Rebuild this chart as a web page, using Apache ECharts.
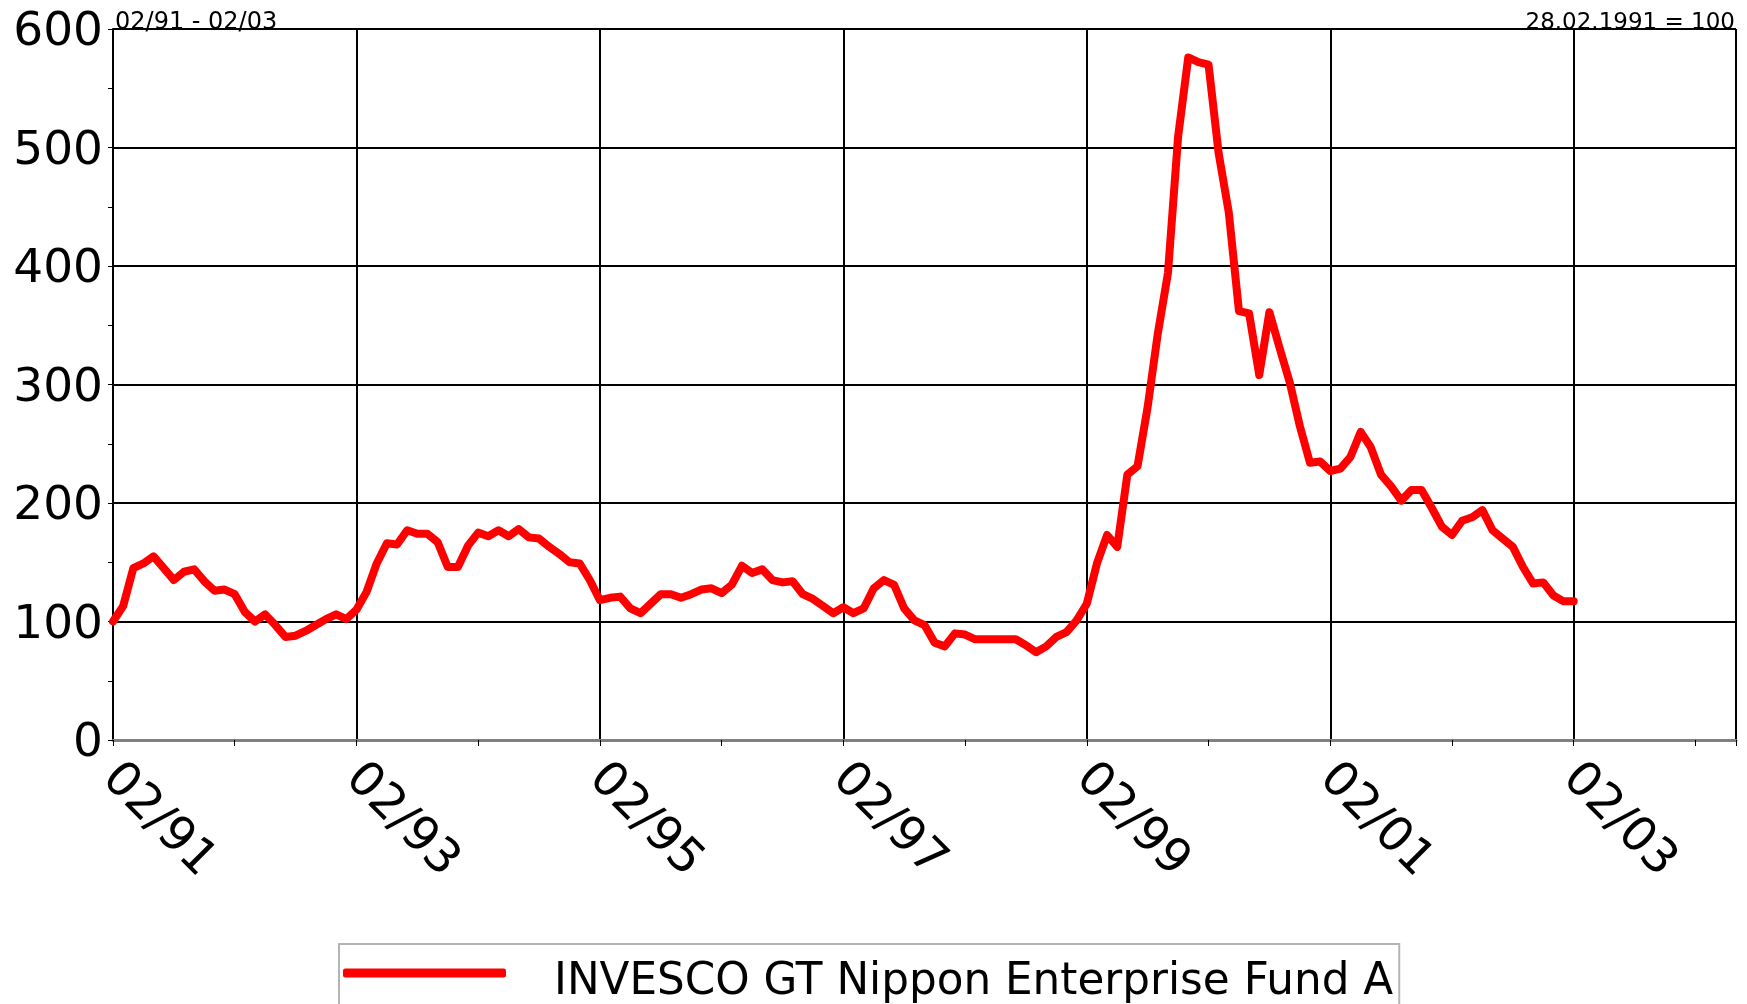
<!DOCTYPE html>
<html>
<head>
<meta charset="utf-8">
<script src="https://cdn.jsdelivr.net/npm/echarts@6/dist/echarts.min.js"></script>
<style>
html,body{margin:0;padding:0;background:#fff;}
#chart{width:1747px;height:1004px;}
</style>
</head>
<body>
<div id="chart"></div>
<script>
// Monthly index values, 28.02.1991 = 100, from 02/91 to 02/03 (one value per month)
const seriesName = 'INVESCO GT Nippon Enterprise Fund A';
const values = [
  100,113,145,149,155,145,135,142,144,134,126,127,
  123,108,100,106,97,87,88,92,97,102,106,102,
  110,125,149,166,165,177,174,174,167,146,146,164,
  175,172,177,172,178,171,170,163,157,150,149,135,
  118,120,121,111,107,115,123,123,120,123,127,128,
  124,131,147,141,144,135,133,134,123,119,113,107,
  112,107,111,128,135,131,111,101,97,82,79,90,
  89,85,85,85,85,85,80,74,79,87,91,101,
  115,149,173,163,224,231,281,343,394,509,576,572,
  570,495,445,362,360,308,361,331,302,265,234,235,
  227,229,239,260,247,224,214,202,211,211,196,180,
  173,185,188,194,177,170,163,146,132,133,122,117,
  117
];
const xTickLabels = ['02/91','02/93','02/95','02/97','02/99','02/01','02/03'];
const yTickValues = [0,100,200,300,400,500,600];
const periodText = '02/91 - 02/03';
const baseText = '28.02.1991 = 100';

const FONT = 'DejaVu Sans';
const chart = echarts.init(document.getElementById('chart'), null, {renderer:'canvas'});
const data = values.map((v, i) => [i, v]);

chart.setOption({
  animation: false,
  backgroundColor: '#ffffff',
  textStyle: {fontFamily: FONT},
  title: [
    {text: periodText, left: 110, top: 6, textStyle: {fontFamily: FONT, fontSize: 24, fontWeight: 'normal', color: '#000'}},
    {text: baseText, right: 7, top: 7, textStyle: {fontFamily: FONT, fontSize: 23, fontWeight: 'normal', color: '#000'}}
  ],
  grid: {left: 113, right: 11, top: 29, bottom: 264, containLabel: false},
  legend: {
    left: 339, top: 944,
    padding: [17, 6, 40, 4],
    borderColor: '#b4b4b4', borderWidth: 2,
    itemWidth: 163, itemHeight: 9,
    data: [{name: seriesName, icon: 'roundRect', itemStyle: {color: '#ff0000', borderWidth: 0}}],
    formatter: name => '{t|' + name + '}',
    textStyle: {
      fontFamily: FONT, fontSize: 43.7, color: '#000',
      rich: {t: {fontFamily: FONT, fontSize: 43.7, color: '#000', padding: [20, 0, 0, 43]}}
    }
  },
  xAxis: {
    type: 'value', min: 0, max: 160, interval: 24,
    axisLine: {show: true, onZero: false, lineStyle: {color: '#808080', width: 3}},
    axisTick: {show: true, length: 6, lineStyle: {color: '#000', width: 1}},
    minorTick: {show: true, splitNumber: 2, length: 6, lineStyle: {color: '#000', width: 1}},
    splitLine: {show: true, lineStyle: {color: '#000', width: 2}},
    axisLabel: {
      rotate: -45, margin: 28, fontSize: 48, color: '#000', fontFamily: FONT,
      showMaxLabel: false,
      formatter: v => (v % 24 === 0 && xTickLabels[v / 24]) ? '{x|' + xTickLabels[v / 24] + '}' : '',
      rich: {x: {fontFamily: FONT, fontSize: 48, color: '#000', padding: [10, 0, 0, 0]}}
    }
  },
  yAxis: {
    type: 'value', min: yTickValues[0], max: yTickValues[yTickValues.length - 1], interval: 100,
    axisLine: {show: true, lineStyle: {color: '#000', width: 2}},
    axisTick: {show: true, length: 5, lineStyle: {color: '#000', width: 1}},
    minorTick: {show: true, splitNumber: 2, length: 5, lineStyle: {color: '#000', width: 1}},
    splitLine: {show: true, lineStyle: {color: '#000', width: 2}},
    axisLabel: {
      fontSize: 47, color: '#000', margin: 10, fontFamily: FONT,
      formatter: v => '{y|' + v + '}',
      rich: {y: {fontFamily: FONT, fontSize: 47, color: '#000', padding: [8, 0, 0, 0]}}
    }
  },
  series: [{
    name: seriesName, type: 'line', data: data,
    symbol: 'none', showSymbol: false,
    lineStyle: {color: '#ff0000', width: 8, join: 'round', cap: 'round'},
    itemStyle: {color: '#ff0000'},
    z: 5
  }]
});
</script>
</body>
</html>
